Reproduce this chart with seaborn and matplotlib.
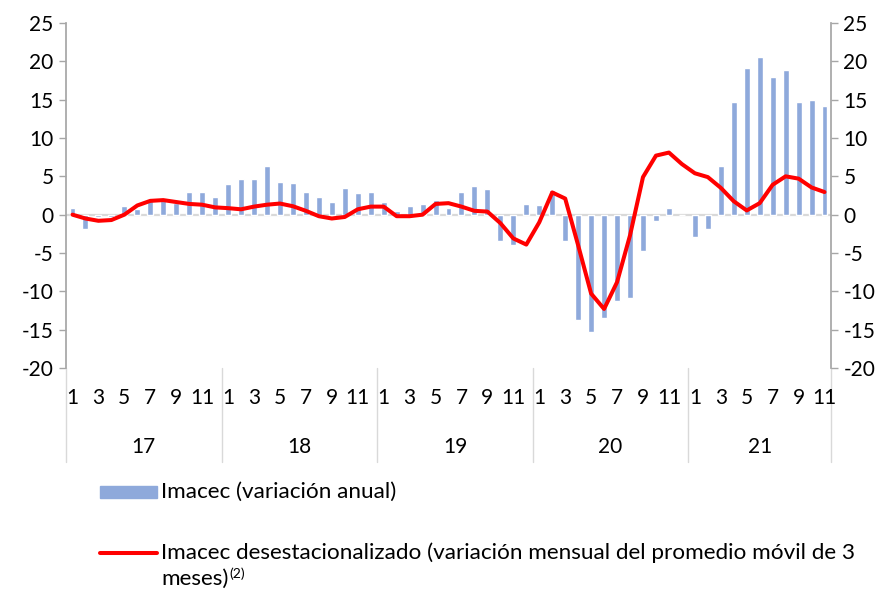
import numpy as np
import pandas as pd
import matplotlib
matplotlib.use("Agg")
import matplotlib.pyplot as plt
import seaborn as sns
from matplotlib.lines import Line2D
from matplotlib.patches import Rectangle
import matplotlib.transforms as mtransforms

# ---------------- data ----------------
years = ["17", "18", "19", "20", "21"]
months_per_year = [12, 12, 12, 12, 11]

imacec_anual = [
    # 2017
    0.9, -1.9, -0.3, -0.3, 1.1, 0.7, 2.1, 2.1, 1.5, 3.0, 2.9, 2.3,
    # 2018
    4.0, 4.7, 4.6, 6.3, 4.2, 4.1, 3.0, 2.3, 1.6, 3.5, 2.8, 2.9,
    # 2019
    1.6, 0.5, 1.1, 1.4, 1.9, 0.9, 2.9, 3.8, 3.4, -3.5, -3.9, 1.4,
    # 2020
    1.3, 3.2, -3.5, -13.8, -15.3, -13.5, -11.2, -10.9, -4.7, -0.8, 0.9, 0.0,
    # 2021
    -2.9, -1.9, 6.3, 14.7, 19.1, 20.6, 18.0, 18.9, 14.7, 14.9, 14.2,
]

imacec_desest = [
    # 2017
    0.0, -0.5, -0.8, -0.7, 0.0, 1.2, 1.8, 1.9, 1.65, 1.4, 1.3, 0.95,
    # 2018
    0.85, 0.7, 1.05, 1.3, 1.45, 1.1, 0.5, -0.2, -0.5, -0.3, 0.7, 1.05,
    # 2019
    1.05, -0.2, -0.2, 0.0, 1.4, 1.5, 1.05, 0.5, 0.4, -1.1, -3.1, -3.9,
    # 2020
    -1.0, 2.9, 2.1, -4.0, -10.3, -12.3, -8.8, -2.7, 4.9, 7.7, 8.1, 6.6,
    # 2021
    5.4, 4.9, 3.5, 1.75, 0.55, 1.5, 3.9, 5.0, 4.7, 3.55, 2.95,
]

month_labels = ["1", "3", "5", "7", "9", "11"]
yticks = [25, 20, 15, 10, 5, 0, -5, -10, -15, -20]

label_bar = "Imacec (variación anual)"
label_line_1 = "Imacec desestacionalizado (variación mensual del promedio móvil de 3"
label_line_2 = "meses)"
label_sup = "(2)"

# ---------------- style ----------------
sns.set_theme(style="white")
plt.rcParams["font.family"] = ["Lato", "DejaVu Sans"]

BAR_C = "#8EA9DB"
LINE_C = "#FF0000"
AX_C = "#A6A6A6"
SEP_C = "#D9D9D9"
TXT_C = "#000000"
FS = 15
FS_LEG = 16.2

n = len(imacec_anual)
idx = np.arange(n)
df = pd.DataFrame({"i": idx, "anual": imacec_anual, "desest": imacec_desest})

fig = plt.figure(figsize=(8.87, 5.95), dpi=100)
W, H = 887, 595
L, R, T, B = 66, 831, 23, 368
ax = fig.add_axes([L / W, 1 - B / H, (R - L) / W, (B - T) / H])

ax.axhline(0, color=SEP_C, lw=1.6, zorder=0)
sns.barplot(data=df, x="i", y="anual", color=BAR_C, width=0.46,
            saturation=1, ax=ax, zorder=2)
sns.lineplot(data=df, x="i", y="desest", color=LINE_C, lw=2.9, ax=ax,
             zorder=3)

ax.set_xlim(-0.5, n - 0.5)
ax.set_ylim(-20, 25)
ax.set_xlabel("")
ax.set_ylabel("")
ax.set_xticks([])
ax.set_yticks(yticks)
ax.set_yticklabels([str(v) for v in yticks], fontsize=FS, color=TXT_C)
ax.tick_params(axis="y", direction="out", length=5, width=1, color=AX_C,
               pad=4, left=True)
for s in ["top", "bottom"]:
    ax.spines[s].set_visible(False)
ax.spines["left"].set_color(AX_C)
ax.spines["right"].set_visible(False)

ax2 = ax.twinx()
ax2.set_ylim(-20, 25)
ax2.set_yticks(yticks)
ax2.set_yticklabels([str(v) for v in yticks], fontsize=FS, color=TXT_C)
ax2.tick_params(axis="y", direction="out", length=5, width=1, color=AX_C,
                pad=4, right=True)
for s in ["top", "bottom", "left"]:
    ax2.spines[s].set_visible(False)
ax2.spines["right"].set_color(AX_C)

# category axis labels
trans = mtransforms.blended_transform_factory(ax.transData, ax.transAxes)
sep_bottom = -(462 - B) / (B - T)
month_y = -(398 - B) / (B - T)
year_y = -(447 - B) / (B - T)
start = 0
bounds = [-0.5]
for y, m in zip(years, months_per_year):
    for k, lab in enumerate(month_labels):
        pos = start + int(lab) - 1
        if int(lab) <= m:
            ax.text(pos, month_y, lab, transform=trans, ha="center",
                    va="center", fontsize=FS, color=TXT_C, clip_on=False)
    ax.text(start + (m - 1) / 2, year_y, y, transform=trans, ha="center",
            va="center", fontsize=FS, color=TXT_C, clip_on=False)
    start += m
    bounds.append(start - 0.5)
for b in bounds:
    ax.add_line(Line2D([b, b], [0, sep_bottom], transform=trans,
                       color=SEP_C, lw=1, clip_on=False))

# legend (manual)
fig.patches.append(Rectangle((100 / W, 1 - 498 / H), 57 / W, 12 / H,
                             transform=fig.transFigure, color=BAR_C))
fig.text(161 / W, 1 - 492 / H, label_bar, fontsize=FS_LEG, va="center",
         ha="left", color=TXT_C)
fig.lines.append(Line2D([100 / W, 157 / W], [1 - 553 / H, 1 - 553 / H],
                        transform=fig.transFigure, color=LINE_C, lw=2.9))
fig.text(161 / W, 1 - 553 / H, label_line_1, fontsize=FS_LEG, va="center",
         ha="left", color=TXT_C)
t2 = fig.text(161 / W, 1 - 579 / H, label_line_2, fontsize=FS_LEG,
              va="center", ha="left", color=TXT_C)
fig.canvas.draw()
bb = t2.get_window_extent()
fig.text(bb.x1 / W + 1 / W, 1 - 574 / H, label_sup, fontsize=10,
         va="center", ha="left", color=TXT_C)

fig.savefig("out.png", dpi=100)
